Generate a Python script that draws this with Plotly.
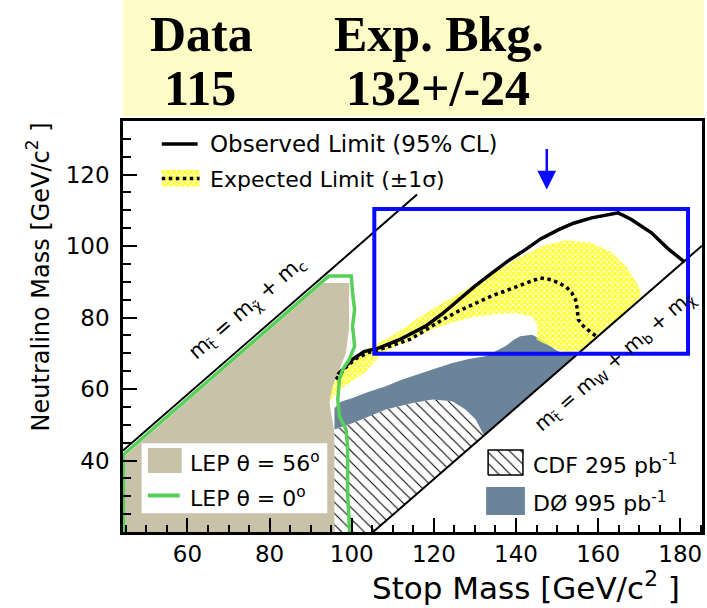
import plotly.graph_objects as go

# ---------------------------------------------------------------- data
# Summary counts shown in the header
header_labels = ["Data", "Exp. Bkg."]
header_values = ["115", "132+/-24"]

# LEP exclusion, mixing angle 56 degrees (filled region)
stop_lep56 = [44.3, 44.3, 93.2, 99.4, 99.3, 99.4, 98.6, 97.0, 95.4, 94.6, 95.3, 95.8, 96.0, 96.0]
neut_lep56 = [20.0, 40.8, 89.7, 89.7, 84.0, 77.6, 70.1, 65.5, 60.8, 56.1, 51.0, 47.7, 21.6, 20.0]

# LEP exclusion, mixing angle 0 degrees (contour)
stop_lep0 = [44.4, 44.4, 94.4, 99.9, 100.2, 100.7, 100.2, 100.7, 99.4, 97.8, 97.0, 96.6, 97.0, 98.6, 99.0, 99.0, 99.4, 99.5]
neut_lep0 = [20.0, 41.6, 91.6, 91.6, 86.9, 82.2, 77.6, 72.0, 68.3, 65.5, 62.7, 57.1, 52.4, 48.7, 44.0, 31.0, 21.6, 20.0]

# CDF 295 pb^-1 exclusion (hatched)
stop_cdf = [95.8, 105.2, 132.2, 130.2, 127.7, 124.5, 119.7, 114.8, 108.3, 100.3, 95.8, 95.8]
neut_cdf = [20.0, 20.0, 47.0, 51.5, 54.3, 56.6, 57.1, 56.1, 54.3, 50.5, 48.7, 20.0]

# D0 995 pb^-1 exclusion
stop_d0 = [95.8, 95.8, 97.5, 100.2, 104.0, 108.3, 112.0, 116.4, 120.0, 124.5, 128.5, 132.6, 135.0,
           137.4, 139.5, 141.0, 143.9, 146.3, 148.0, 149.6, 152.0, 154.5, 132.2, 130.2, 127.7,
           124.5, 119.7, 114.8, 108.3, 100.3, 95.8]
neut_d0 = [46.8, 54.7, 56.5, 57.5, 59.2, 60.8, 62.5, 64.1, 65.6, 67.3, 68.4, 69.2, 70.5,
           72.0, 73.8, 74.8, 75.2, 73.8, 72.3, 71.0, 69.7, 69.3, 47.0, 51.5, 54.3,
           56.6, 57.1, 56.1, 54.3, 50.5, 48.7]

# Expected limit +/- 1 sigma band
stop_band = [94.5, 95.5, 97.0, 100.0, 104.0, 108.0, 112.0, 117.0, 122.0, 128.0, 134.0, 140.0, 146.0,
             152.0, 158.0, 163.0, 167.0, 170.0, 170.5, 168.5, 156.0, 152.0, 148.5, 145.0, 145.3,
             144.0, 140.0, 135.0, 130.0, 125.0, 120.0, 114.0, 108.5, 106.0, 103.0, 97.0, 94.5]
neut_band = [56.5, 61.0, 64.5, 68.5, 71.5, 73.8, 76.5, 80.5, 84.0, 88.0, 92.0, 96.3, 99.8,
             101.6, 101.0, 98.5, 94.0, 88.5, 86.0, 83.3, 70.8, 70.2, 71.8, 73.8, 77.5,
             80.2, 81.3, 81.0, 80.2, 78.8, 76.8, 73.8, 70.8, 68.3, 64.5, 59.8, 56.5]

# Observed 95% CL limit
stop_obs = [96.6, 98.5, 100.2, 103.0, 106.7, 111.6, 115.0, 118.0, 122.0, 126.1, 130.0, 134.2, 138.0,
            142.3, 146.0, 150.4, 154.0, 158.4, 162.0, 164.9, 168.0, 173.0, 177.0, 181.1]
neut_obs = [64.1, 66.5, 68.3, 70.5, 71.5, 73.8, 75.8, 77.6, 81.0, 85.0, 88.8, 92.5, 95.8,
            99.0, 102.0, 104.6, 106.4, 107.9, 108.8, 109.3, 107.5, 103.7, 99.3, 95.5]

# Expected limit
stop_exp = [96.2, 98.5, 101.0, 104.0, 106.7, 110.0, 114.0, 118.0, 122.1, 126.0, 130.2, 134.0, 138.2,
            142.0, 145.9, 148.5, 150.4, 152.3, 153.6, 154.5, 154.8, 155.2, 156.5, 158.4, 159.8]
neut_exp = [62.7, 66.0, 68.5, 70.2, 71.0, 72.3, 73.8, 76.5, 79.4, 81.8, 84.1, 86.0, 87.8,
            89.5, 91.1, 90.6, 89.7, 88.5, 86.9, 85.0, 83.2, 79.4, 77.5, 75.7, 74.6]

# Kinematic boundaries
kin_c_stop = [44.3, 115.9]            # m_stop = m_chi + m_c
kin_c_neut = [42.8, 114.4]
kin_wb_stop = [105.2, 185.3]          # m_stop = m_W + m_b + m_chi
kin_wb_neut = [20.0, 100.1]

# Region of interest and marker
roi_stop = [105.5, 181.9]
roi_neut = [69.9, 110.4]
arrow_stop, arrow_neut = 147.5, 115.8

x_ticks = [60, 80, 100, 120, 140, 160, 180]
y_ticks = [40, 60, 80, 100, 120]

# ---------------------------------------------------------------- layout helpers
X_RANGE = [44.3, 185.3]
Y_RANGE = [20.0, 135.0]
W, H = 707, 608
ML, MR, MT, MB = 123, 2, 121, 76


def paper_x(p):
    return (p - ML) / (W - ML - MR)


def paper_y(p):
    return (H - MB - p) / (H - MT - MB)


def data_x(p):
    return X_RANGE[0] + paper_x(p) * (X_RANGE[1] - X_RANGE[0])


def data_y(p):
    return Y_RANGE[0] + paper_y(p) * (Y_RANGE[1] - Y_RANGE[0])


FONT = "DejaVu Sans"
BEIGE = "#cac2a8"
SLATE = "#6b8499"
GREEN = "#58cf58"
BLUE = "#0a0aff"
YELLOW_BG = "rgba(255,255,150,0.6)"

band_pattern = dict(shape="x", fgcolor="#ffff10", bgcolor=YELLOW_BG, size=4, solidity=0.5, fillmode="replace")
hatch_pattern = dict(shape="\\", fgcolor="black", bgcolor="white", size=8, solidity=0.13, fillmode="replace")

fig = go.Figure()

common = dict(mode="lines", hoverinfo="skip", showlegend=False)

fig.add_trace(go.Scatter(x=stop_lep56, y=neut_lep56, fill="toself", fillcolor=BEIGE,
                         line=dict(width=0, color=BEIGE), **common))
fig.add_trace(go.Scatter(x=stop_cdf, y=neut_cdf, fill="toself", fillcolor="white",
                         fillpattern=hatch_pattern, line=dict(width=0, color="white"), **common))
fig.add_trace(go.Scatter(x=stop_d0, y=neut_d0, fill="toself", fillcolor=SLATE,
                         line=dict(width=0, color=SLATE), **common))
fig.add_trace(go.Scatter(x=stop_band, y=neut_band, fill="toself", fillcolor=YELLOW_BG,
                         fillpattern=band_pattern, line=dict(width=0, color="rgba(0,0,0,0)"), **common))

fig.add_trace(go.Scatter(x=kin_c_stop, y=kin_c_neut, line=dict(color="black", width=2), **common))
fig.add_trace(go.Scatter(x=kin_wb_stop, y=kin_wb_neut, line=dict(color="black", width=2), **common))

fig.add_trace(go.Scatter(x=stop_obs, y=neut_obs, line=dict(color="black", width=3.5), **common))
fig.add_trace(go.Scatter(x=stop_exp, y=neut_exp, line=dict(color="black", width=3.5, dash="dot"), **common))
fig.add_trace(go.Scatter(x=stop_lep0, y=neut_lep0, line=dict(color=GREEN, width=3.5), cliponaxis=False, **common))

# legend swatches that need fill patterns
sx0, sx1, sy0, sy1 = data_x(162), data_x(200), data_y(187), data_y(170)
fig.add_trace(go.Scatter(x=[sx0, sx1, sx1, sx0, sx0], y=[sy0, sy0, sy1, sy1, sy0], fill="toself",
                         fillcolor=YELLOW_BG, fillpattern=band_pattern,
                         line=dict(width=0, color="rgba(0,0,0,0)"), **common))
fig.add_trace(go.Scatter(x=[sx0, sx1], y=[data_y(178.5)] * 2,
                         line=dict(color="black", width=3.5, dash="dot"), **common))
hx0, hx1, hy0, hy1 = data_x(490), data_x(525), data_y(475), data_y(450)
fig.add_trace(go.Scatter(x=[hx0, hx1, hx1, hx0, hx0], y=[hy0, hy0, hy1, hy1, hy0], fill="toself",
                         fillcolor="white", fillpattern=hatch_pattern,
                         line=dict(width=1.5, color="black"), **common))

shapes = []
# header panel
shapes.append(dict(type="rect", xref="paper", yref="paper", x0=paper_x(123), x1=paper_x(707),
                   y0=paper_y(116), y1=paper_y(0), fillcolor="#fdfcc6", line=dict(width=0), layer="above"))
# region of interest
shapes.append(dict(type="rect", xref="x", yref="y", x0=roi_stop[0], x1=roi_stop[1],
                   y0=roi_neut[0], y1=roi_neut[1], line=dict(color=BLUE, width=4), layer="above"))
# legend boxes
shapes.append(dict(type="rect", xref="paper", yref="paper", x0=paper_x(141.7), x1=paper_x(328.3),
                   y0=paper_y(513.3), y1=paper_y(443.3), fillcolor="white", line=dict(width=0), layer="above"))
shapes.append(dict(type="rect", xref="paper", yref="paper", x0=paper_x(148), x1=paper_x(182),
                   y0=paper_y(473), y1=paper_y(448), fillcolor=BEIGE, line=dict(width=0), layer="above"))
shapes.append(dict(type="line", xref="paper", yref="paper", x0=paper_x(148), x1=paper_x(180),
                   y0=paper_y(495.5), y1=paper_y(495.5), line=dict(color=GREEN, width=4), layer="above"))
shapes.append(dict(type="line", xref="paper", yref="paper", x0=paper_x(162), x1=paper_x(198),
                   y0=paper_y(144), y1=paper_y(144), line=dict(color="black", width=3.5), layer="above"))
shapes.append(dict(type="rect", xref="paper", yref="paper", x0=paper_x(488), x1=paper_x(527),
                   y0=paper_y(515), y1=paper_y(487), fillcolor=SLATE, line=dict(width=0), layer="above"))

ann = []


def text(xp, yp, s, size=21, anchor="left", family=FONT, angle=0, ref="paper"):
    if ref == "paper":
        ann.append(dict(x=paper_x(xp), y=paper_y(yp), xref="paper", yref="paper", text=s, showarrow=False,
                        xanchor=anchor, yanchor="middle", textangle=angle,
                        font=dict(family=family, size=size, color="black")))
    else:
        ann.append(dict(x=xp, y=yp, xref="x", yref="y", text=s, showarrow=False,
                        xanchor=anchor, yanchor="middle", textangle=angle,
                        font=dict(family=family, size=size, color="black")))


# header text
HEAD = "Liberation Serif"
text(202, 34, "<b>%s</b>" % header_labels[0], 50, "center", HEAD)
text(441, 34, "<b>%s</b>" % header_labels[1], 50, "center", HEAD)
text(200, 88, "<b>%s</b>" % header_values[0], 50, "center", HEAD)
text(440, 88, "<b>%s</b>" % header_values[1], 50, "center", HEAD)

# legends
text(208, 144, "Observed Limit (95% CL)", 23)
text(208, 179, "Expected Limit (±1σ)", 22)
text(188, 462, "LEP θ = 56<sup>o</sup>", 22)
text(188, 497, "LEP θ = 0<sup>o</sup>", 22)
text(533, 464, "CDF 295 pb<sup>-1</sup>", 22)
text(533, 502, "DØ 995 pb<sup>-1</sup>", 22)

# kinematic line labels
text(74.5, 82.8, "m<sub>t̃</sub> = m<sub>χ̃</sub> + m<sub>c</sub>", 21, "center", angle=-41, ref="data")
text(164.0, 67.8, "m<sub>t̃</sub> = m<sub>W</sub> + m<sub>b</sub> + m<sub>χ̃</sub>", 20, "center", angle=-41, ref="data")

# axis titles
text(528, 586, "Stop Mass [GeV/c<sup>2</sup> ]", 31, "center")
text(38, 277, "Neutralino Mass [GeV/c<sup>2</sup> ]", 24, "center", angle=-90)

# marker arrow
ann.append(dict(x=arrow_stop, y=arrow_neut, xref="x", yref="y", ax=0, ay=-42, text="", showarrow=True,
                arrowhead=2, arrowsize=1.5, arrowwidth=2.5, arrowcolor=BLUE))

axis_common = dict(showgrid=False, zeroline=False, showline=True, mirror=True, linecolor="black",
                   linewidth=2.5, ticks="inside", ticklen=14, tickwidth=2, tickcolor="black",
                   tickfont=dict(family=FONT, size=23, color="black"))

fig.update_layout(
    width=W, height=H,
    margin=dict(l=ML, r=MR, t=MT, b=MB),
    paper_bgcolor="white", plot_bgcolor="white",
    showlegend=False,
    xaxis=dict(range=X_RANGE, tickmode="array", tickvals=x_ticks, ticklabelstandoff=0,
               minor=dict(tickvals=list(range(45, 186, 5)), ticks="inside", ticklen=7, tickwidth=2,
                          tickcolor="black"),
               **axis_common),
    yaxis=dict(range=Y_RANGE, tickmode="array", tickvals=y_ticks, ticklabelstandoff=6,
               minor=dict(tickvals=list(range(25, 136, 5)), ticks="inside", ticklen=8, tickwidth=2,
                          tickcolor="black"),
               **axis_common),
    shapes=shapes,
    annotations=ann,
)

fig.write_html("out.html")
